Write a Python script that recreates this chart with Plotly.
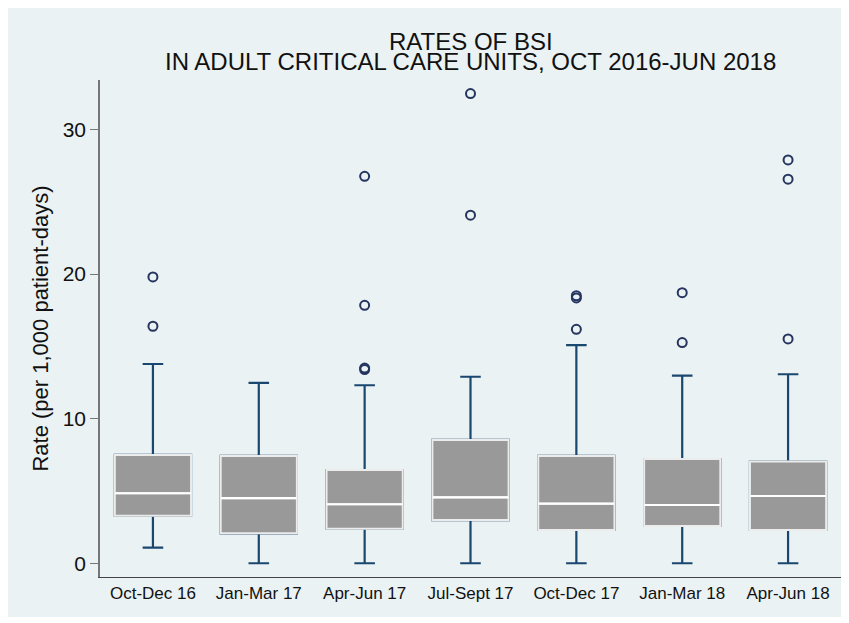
import plotly.graph_objects as go

categories = ["Oct-Dec 16", "Jan-Mar 17", "Apr-Jun 17", "Jul-Sept 17",
              "Oct-Dec 17", "Jan-Mar 18", "Apr-Jun 18"]
lower_whisker = [1.08, 0.0, 0.0, 0.0, 0.0, 0.0, 0.0]
q1 = [3.29, 2.07, 2.39, 2.99, 2.30, 2.58, 2.30]
median = [4.84, 4.50, 4.08, 4.56, 4.12, 4.03, 4.65]
q3 = [7.49, 7.42, 6.45, 8.53, 7.42, 7.21, 7.03]
upper_whisker = [13.78, 12.47, 12.31, 12.90, 15.08, 12.97, 13.07]

outlier_cat = ["Oct-Dec 16", "Oct-Dec 16",
               "Apr-Jun 17", "Apr-Jun 17", "Apr-Jun 17", "Apr-Jun 17",
               "Jul-Sept 17", "Jul-Sept 17",
               "Oct-Dec 17", "Oct-Dec 17", "Oct-Dec 17",
               "Jan-Mar 18", "Jan-Mar 18",
               "Apr-Jun 18", "Apr-Jun 18", "Apr-Jun 18"]
outlier_val = [19.80, 16.39,
               26.76, 17.84, 13.50, 13.40,
               32.48, 24.07,
               18.50, 18.35, 16.18,
               18.71, 15.26,
               27.89, 26.56, 15.51]

y_ticks = [0, 10, 20, 30]

NAVY = "#1A476F"
DARKNAVY = "#26355F"
GRAYFILL = "#999999"
BOXLINE = "#ECECEC"
BG = "#EAF2F3"

# figure sits at (8, 8) in the page (default body margin)
W, H = 841, 615
ML, MR, MT, MB = 92, 8, 72, 46
PW, PH = W - ML - MR, H - MT - MB

fig = go.Figure()

# whiskers (navy) with caps
fig.add_trace(go.Box(
    x=categories, q1=q1, median=median, q3=q3,
    lowerfence=lower_whisker, upperfence=upper_whisker,
    boxpoints=False, width=0.72, whiskerwidth=0.27,
    line=dict(color=NAVY, width=2.2), fillcolor=GRAYFILL,
    hoverinfo="skip", showlegend=False))

# gray box on top with light outline
fig.add_trace(go.Box(
    x=categories, q1=q1, median=median, q3=q3,
    lowerfence=q1, upperfence=q3,
    boxpoints=False, width=0.72, whiskerwidth=0,
    line=dict(color=BOXLINE, width=2), fillcolor=GRAYFILL,
    showlegend=False))

# white median line
fig.add_trace(go.Scatter(
    x=categories, y=median, mode="markers",
    marker=dict(symbol="line-ew", size=54, color="white",
                line=dict(color="white", width=2.2)),
    hoverinfo="skip", showlegend=False))

# outliers
fig.add_trace(go.Scatter(
    x=outlier_cat, y=outlier_val, mode="markers",
    marker=dict(symbol="circle-open", size=9, color=DARKNAVY,
                line=dict(color=DARKNAVY, width=2)),
    showlegend=False))

def py(page_y):
    return (H - MB - (page_y - 8)) / PH

def px(page_x):
    return (page_x - 8 - ML) / PW

fig.add_annotation(text="RATES OF BSI", xref="paper", yref="paper",
                   x=0.5, y=py(41), xanchor="center", yanchor="middle",
                   showarrow=False,
                   font=dict(family="Liberation Sans, Arial", size=24, color="#111111"))
fig.add_annotation(text="IN ADULT CRITICAL CARE UNITS, OCT 2016-JUN 2018",
                   xref="paper", yref="paper",
                   x=0.5, y=py(62), xanchor="center", yanchor="middle",
                   showarrow=False,
                   font=dict(family="Liberation Sans, Arial", size=24, color="#111111"))

# outer light background, white strip at the bottom
fig.add_shape(type="rect", xref="paper", yref="paper",
              x0=px(0), x1=px(860), y0=py(617), y1=py(0),
              fillcolor=BG, line=dict(width=0), layer="below")

fig.update_layout(
    width=W, height=H,
    margin=dict(l=ML, r=MR, t=MT, b=MB, autoexpand=False),
    paper_bgcolor="white", plot_bgcolor="white",
    font=dict(family="Liberation Sans, Arial", color="#111111"),
    boxmode="overlay",
    xaxis=dict(type="category", categoryorder="array", categoryarray=categories,
               range=[-0.5, 6.5], showgrid=False, ticks="",
               showline=True, linecolor="#444444", linewidth=1.3,
               tickfont=dict(size=17, color="#111111"), zeroline=False,
               automargin=False),
    yaxis=dict(range=[-0.95, 33.42], tickvals=y_ticks,
               showgrid=True, gridcolor=BG, gridwidth=1.7,
               ticks="outside", ticklen=8, tickcolor="#777777", tickwidth=1.2,
               showline=True, linecolor="#777777", linewidth=1.5,
               zeroline=False, automargin=False,
               tickfont=dict(size=21, color="#111111"),
               title=dict(text="Rate (per 1,000 patient-days)",
                          font=dict(size=22, color="#111111"), standoff=8)),
)

fig.write_html("out.html")
